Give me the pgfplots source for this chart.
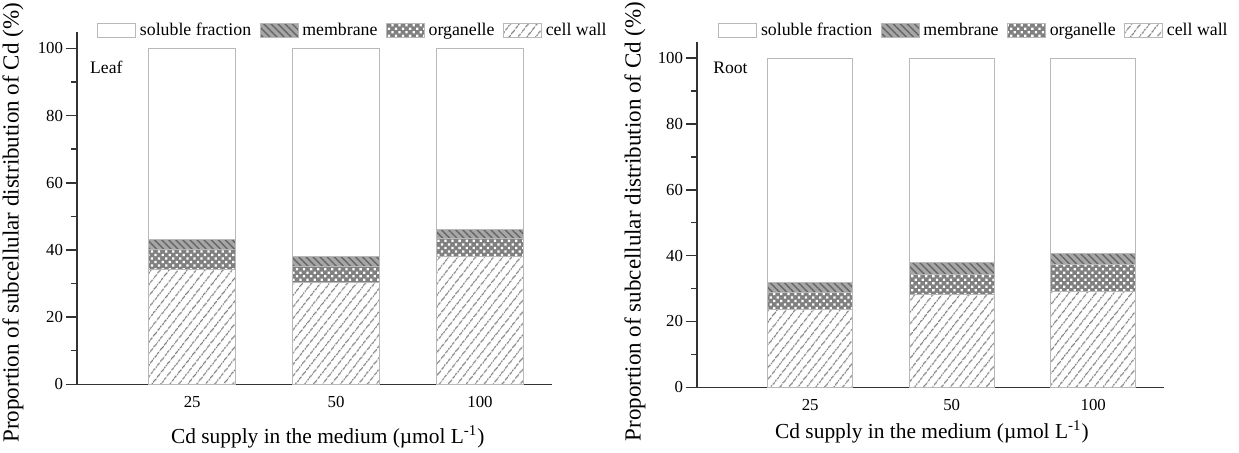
\documentclass[border=0pt]{standalone}
\usepackage{fontspec}
\setmainfont{Liberation Serif}
\usepackage{pgfplots}
\pgfplotsset{compat=1.18}
\usetikzlibrary{patterns,patterns.meta}

\definecolor{barline}{gray}{0.72}
\definecolor{axisline}{gray}{0.2}

\pgfplotsset{
  subcell/.style={
    scale only axis, ybar stacked, bar width=0.6,
    xmin=0.2, xmax=3.5, ymin=0, ymax=105,
    axis x line=bottom, axis y line=left,
    axis line style={-, line width=0.75bp, draw=axisline},
    xtick={1,2,3}, xticklabels={25,50,100},
    xtick style={draw=none},
    ytick={0,20,...,100}, minor y tick num=1,
    tick align=outside, major tick length=5.5bp, minor tick length=3bp,
    ytick style={line width=0.75bp, draw=axisline},
    /pgf/number format/assume math mode=true,
    tick label style={font=\fontsize{8.4bp}{10bp}\selectfont},
    xticklabel style={yshift=3bp},
    yticklabel style={xshift=2bp},
    xlabel={Cd supply in the medium (µmol L\textsuperscript{-1})},
    ylabel={Proportion of subcellular distribution of Cd (\%)},
    xlabel style={font=\fontsize{10.7bp}{12bp}\selectfont},
    reverse legend, legend columns=4, legend cell align=left,
    legend image code/.code={\draw[##1] (0bp,-3.5bp) rectangle (19bp,3.5bp);},
    legend style={draw=none, fill=none, inner sep=0pt, anchor=north west,
      font=\fontsize{8.9bp}{10.5bp}\selectfont,
      nodes={inner sep=0.8bp},
      /tikz/every odd column/.append style={column sep=1bp},
      /tikz/every even column/.append style={column sep=3.5bp}},
  },
  cellwall/.style={draw=barline, line width=0.5bp, fill=white,
    postaction={pattern={Lines[angle=52,distance=3.6bp,line width=0.6bp]}, pattern color=black!50}},
  organelle/.style={draw=barline, line width=0.5bp, fill=black!50,
    postaction={pattern={Dots[angle=45,distance=2.5bp,radius=0.8bp]}, pattern color=white}},
  membrane/.style={draw=barline, line width=0.5bp, fill=black!35,
    postaction={pattern={Lines[angle=-45,distance=2.5bp,line width=0.7bp]}, pattern color=black!60}},
  soluble/.style={draw=barline, line width=0.5bp, fill=white},
}

\begin{document}
\begin{tikzpicture}
\useasboundingbox (0,0) rectangle (619.5bp,226.5bp);

% Leaf
\begin{axis}[subcell,
  at={(38.5bp,34.35bp)}, anchor=south west,
  width=237.5bp, height=176.3bp,
  xlabel style={at={(axis description cs:0.528,-0.149)}, anchor=center},
  ylabel style={at={(axis description cs:-0.135,0.458)}, anchor=center,
    font=\fontsize{11.5bp}{13bp}\selectfont},
  legend style={at={(rel axis cs:0.042,1.030)}},
]
\addplot[cellwall] coordinates {(1,34.3) (2,30.2) (3,38.0)};
\addlegendentry{cell wall}
\addplot[organelle] coordinates {(1,5.9) (2,5.0) (3,5.4)};
\addlegendentry{organelle}
\addplot[membrane] coordinates {(1,3.0) (2,3.0) (3,2.8)};
\addlegendentry{membrane}
\addplot[soluble] coordinates {(1,56.8) (2,61.8) (3,53.8)};
\addlegendentry{soluble fraction}
\node[anchor=west, inner sep=0pt, font=\fontsize{8.8bp}{10bp}\selectfont] at (rel axis cs:0.027,0.898) {Leaf};
\end{axis}

% Root
\begin{axis}[subcell,
  at={(348.5bp,32.85bp)}, anchor=south west,
  width=233.5bp, height=172.8bp,
  xlabel style={at={(axis description cs:0.503,-0.129)}, anchor=center},
  ylabel style={at={(axis description cs:-0.133,0.48)}, anchor=center,
    font=\fontsize{11.5bp}{13bp}\selectfont},
  legend style={at={(rel axis cs:0.045,1.060)}},
]
\addplot[cellwall] coordinates {(1,23.5) (2,28.3) (3,29.0)};
\addlegendentry{cell wall}
\addplot[organelle] coordinates {(1,5.3) (2,6.1) (3,8.3)};
\addlegendentry{organelle}
\addplot[membrane] coordinates {(1,2.9) (2,3.4) (3,3.4)};
\addlegendentry{membrane}
\addplot[soluble] coordinates {(1,68.3) (2,62.2) (3,59.3)};
\addlegendentry{soluble fraction}
\node[anchor=west, inner sep=0pt, font=\fontsize{8.8bp}{10bp}\selectfont] at (rel axis cs:0.034,0.924) {Root};
\end{axis}
\end{tikzpicture}
\end{document}
